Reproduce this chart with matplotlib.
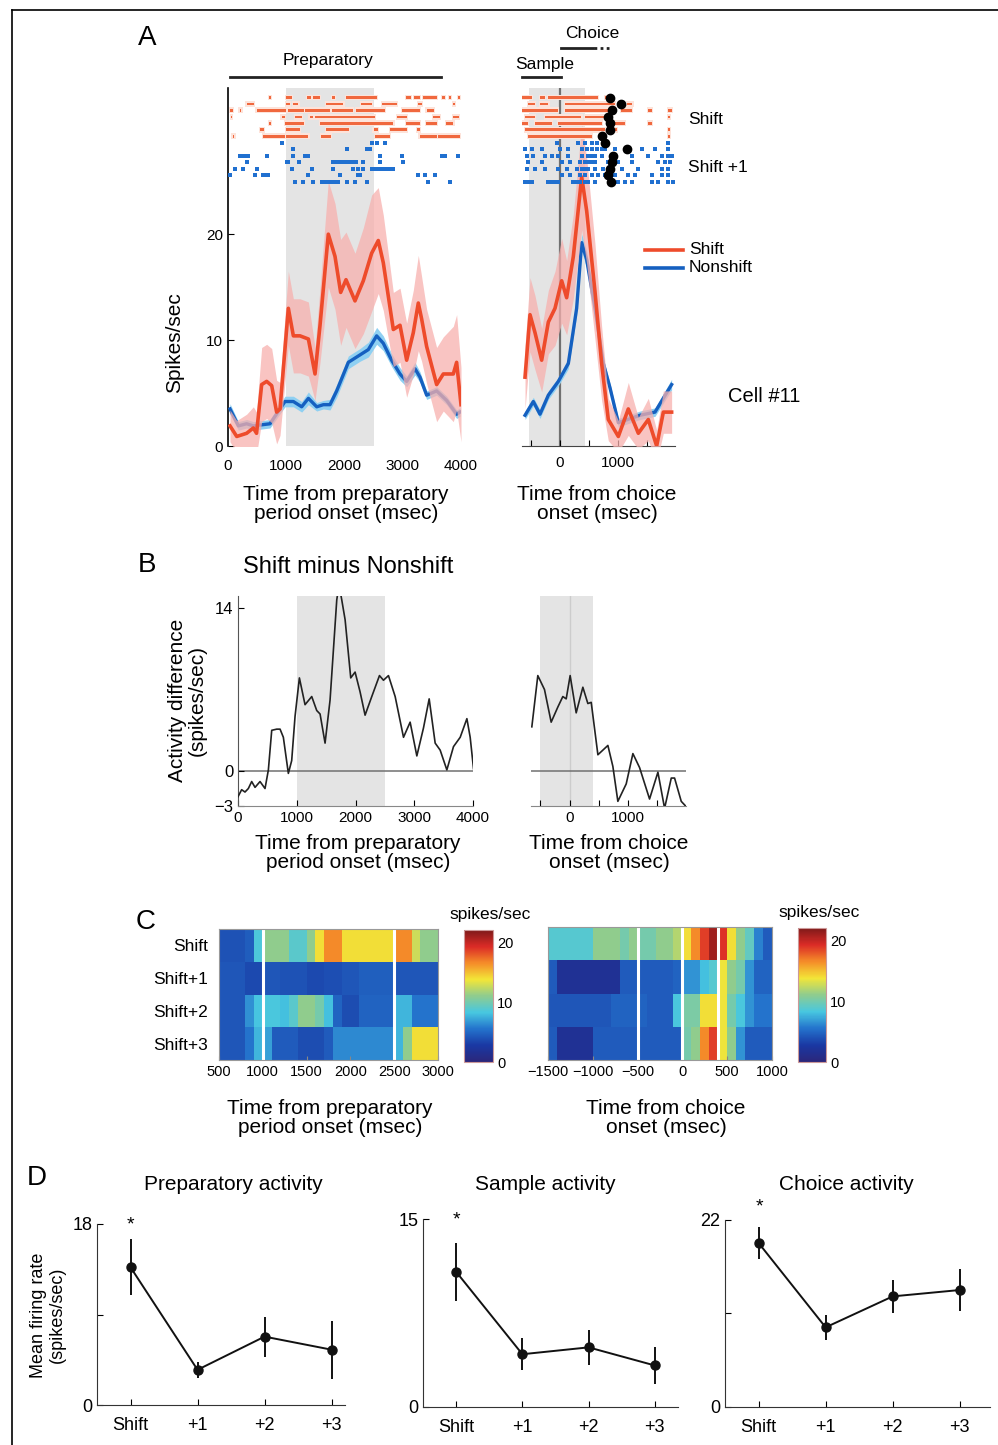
import matplotlib
matplotlib.use('Agg')
import matplotlib.pyplot as plt
from matplotlib.lines import Line2D
from matplotlib.colors import LinearSegmentedColormap

plt.rcParams['font.family'] = ['Liberation Sans', 'DejaVu Sans']
plt.rcParams['axes.unicode_minus'] = True

# ---------------- DATA ----------------
# Panel A (left): firing rate aligned to preparatory period onset
prep_t = [34, 150, 320, 435, 490, 578, 664, 750, 835, 893, 1036, 1122, 1236, 1380, 1494, 1580, 1722, 1837, 1934,
          2026, 2180, 2323, 2466, 2580, 2666, 2838, 2953, 3067, 3181, 3267, 3324, 3410, 3582, 3696, 3868, 3925, 4000]
prep_shift = [1.9, 0.9, 1.2, 1.7, 1.2, 5.8, 6.1, 5.7, 3.2, 3.5, 13.0, 10.4, 10.4, 10.1, 6.8, 11.4, 20.0, 17.9, 14.5,
              15.7, 13.7, 15.6, 18.2, 19.4, 17.3, 11.0, 11.4, 8.1, 10.7, 13.5, 12.0, 9.4, 5.8, 6.8, 6.8, 7.9, 3.9]
prep_shift_sem = [1.5, 1.5, 1.8, 2.0, 2.0, 3.5, 3.5, 3.5, 3.0, 2.5, 3.5, 3.5, 3.5, 3.5, 2.5, 3.5, 5.0, 5.0, 5.0,
                  4.5, 4.5, 5.0, 5.5, 5.0, 4.5, 3.5, 3.5, 3.5, 4.0, 4.5, 4.0, 3.5, 3.5, 3.5, 4.5, 4.5, 3.5]
prep_ns_t = [34, 178, 320, 435, 721, 978, 1122, 1265, 1380, 1523, 1637, 1751, 1866, 2066, 2266, 2409, 2552, 2666,
             2809, 2953, 3067, 3210, 3296, 3410, 3582, 3754, 3925, 3982]
prep_ns = [3.5, 1.9, 2.1, 1.9, 2.1, 4.2, 4.2, 3.7, 4.5, 3.7, 3.9, 3.9, 5.2, 7.9, 8.6, 9.1, 10.4, 9.7,
           8.1, 6.8, 6.1, 7.3, 6.5, 4.8, 5.2, 4.3, 3.0, 3.2]
prep_ns_sem = [0.5, 0.4, 0.4, 0.4, 0.4, 0.5, 0.5, 0.5, 0.6, 0.4, 0.4, 0.5, 0.6, 0.6, 0.6, 0.7, 0.8, 0.7,
               0.6, 0.6, 0.5, 0.6, 0.5, 0.4, 0.4, 0.4, 0.4, 0.4]

# Panel A (right): firing rate aligned to choice onset
ch_t = [-603, -517, -431, -316, -201, -86, 29, 115, 230, 374, 460, 603, 718, 833, 1006, 1178, 1351, 1523, 1667, 1782, 1925]
ch_shift = [6.5, 12.4, 10.7, 8.1, 11.7, 13.0, 15.6, 14.0, 17.9, 25.4, 22.2, 14.6, 7.8, 2.5, 0.9, 3.5, 1.2, 2.5, 0.0, 3.2, 3.2]
ch_shift_sem = [3.0, 3.5, 3.5, 3.0, 3.0, 3.5, 4.0, 3.5, 4.0, 5.0, 5.0, 4.5, 3.5, 2.0, 1.5, 2.5, 1.5, 2.0, 1.5, 2.0, 2.0]
ch_ns_t = [-603, -460, -345, -201, -28, 144, 287, 374, 460, 603, 747, 862, 1006, 1379, 1638, 1925]
ch_ns = [2.9, 4.2, 3.0, 4.8, 6.1, 7.8, 13.0, 19.2, 17.6, 13.0, 7.8, 5.5, 2.2, 2.9, 3.2, 5.8]
ch_ns_sem = [0.4, 0.4, 0.4, 0.4, 0.4, 0.5, 0.7, 0.8, 0.8, 0.7, 0.5, 0.4, 0.4, 0.4, 0.4, 0.5]

# Rasters, preparatory-aligned (ms). Shift trials: bursts (start, end); Shift+1 trials: single spikes
prep_shift_bursts = [
    [(700, 740), (1000, 1100), (1360, 1420), (1460, 1580), (1780, 1840), (2030, 2550), (3060, 3140), (3200, 3300),
     (3350, 3580), (3670, 3720), (3800, 3830), (3950, 3990)],
    [(320, 440), (1000, 1060), (1120, 1210), (1690, 1980), (2290, 2470), (2640, 2900), (3260, 3330), (3860, 3890)],
    [(40, 90), (200, 230), (490, 1000), (1030, 1300), (1330, 1750), (1780, 2150), (2200, 2700), (2990, 3300), (3410, 3530)],
    [(50, 70), (920, 980), (1150, 1270), (1400, 1460), (1500, 2520), (2900, 3070), (3520, 3640), (3860, 3960)],
    [(700, 730), (980, 1300), (1580, 2840), (3060, 3300), (3400, 3580), (3750, 3870)],
    [(550, 610), (1000, 1240), (1690, 2070), (2500, 2580), (2780, 3070), (3250, 3300)],
    [(80, 110), (600, 980), (1000, 1380), (1600, 1760), (2520, 2780), (3290, 3580), (3610, 3990)],
]
prep_next_spikes = [
    [921, 2466, 2550, 2695],
    [1110, 2037, 2380, 2440],
    [206, 260, 320, 349, 664, 1110, 1322, 1379, 2609, 2981, 3668, 3720, 3954],
    [320, 1007, 1036, 1225, 1808, 1860, 1900, 1950, 2000, 2050, 2100, 2150, 2200, 2323, 2609, 2999],
    [120, 250, 492, 1093, 1436, 1808, 2152, 2237, 2323, 2466, 2520, 2580, 2640, 2700, 2760, 2838],
    [34, 464, 607, 664, 692, 1379, 1923, 2237, 2266, 3267, 3382, 3554],
    [1150, 1293, 1465, 1608, 1660, 1720, 1780, 1837, 1894, 2037, 2180, 2381, 3439, 3811],
]
# Rasters, choice-aligned
ch_shift_bursts = [
    [(-660, -490), (-340, -260), (-200, 660), (780, 860)],
    [(-550, -430), (-340, -200), (90, 950), (1150, 1250)],
    [(-660, -30), (90, 890), (1060, 1240), (1520, 1580), (1870, 1930)],
    [(-600, -430), (-260, 370), (430, 780), (1870, 1900)],
    [(-660, -550), (-430, -140), (-30, 720), (950, 1120), (1520, 1580)],
    [(-600, 780), (950, 980), (1870, 1900)],
    [(-550, 550), (1870, 1900)],
]
ch_next_spikes = [
    [-57, 316, 431, 546, 632, 747, 1868],
    [-603, -489, -316, 0, 144, 374, 460, 546, 632, 718, 776, 948, 1178, 1408, 1638, 1868],
    [-575, -460, -259, -144, -29, 144, 374, 489, 546, 603, 718, 948, 1236, 1523, 1753, 1868, 1925],
    [-546, -316, 29, 172, 345, 431, 489, 546, 603, 833, 1006, 1236, 1695, 1810, 1897],
    [-575, -431, -259, -29, 115, 287, 374, 431, 489, 603, 747, 1063, 1351, 1753, 1868],
    [29, 172, 345, 431, 546, 661, 776, 948, 1178, 1293, 1580, 1753, 1868],
    [-603, -546, -489, -201, -144, -86, -29, 230, 287, 345, 431, 489, 603, 891, 1006, 1121, 1236, 1580, 1695, 1868, 1954],
]
ch_choice_times = [862, 1052, 902, 833, 862, 862, 730, 776, 1149, 920, 891, 862, 833, 879]

# Panel B: Shift minus Nonshift
diff_prep_t = [0, 62, 119, 176, 233, 290, 375, 460, 517, 574, 659, 716, 772, 857, 914, 971, 1045, 1141, 1255, 1340,
               1397, 1482, 1567, 1681, 1720, 1766, 1823, 1919, 1993, 2078, 2163, 2277, 2408, 2476, 2561, 2675, 2817,
               2930, 3044, 3157, 3254, 3356, 3441, 3555, 3668, 3782, 3896, 3952, 4009]
diff_prep = [-2.2, -1.6, -1.8, -1.5, -0.9, -1.4, -0.9, -1.5, 0.1, 3.5, 3.6, 3.6, 2.9, -0.2, 0.9, 4.7, 8.0, 5.7, 6.4, 5.2,
             4.9, 2.4, 6.1, 14.7, 16.0, 14.7, 13.0, 8.0, 8.5, 6.8, 4.8, 6.4, 8.2, 7.8, 8.2, 6.4, 2.9,
             4.2, 1.3, 3.7, 6.2, 2.4, 1.8, 0.1, 2.1, 2.9, 4.5, 2.9, 0.2]
diff_ch_t = [-649, -546, -431, -316, -201, -115, -57, 11, 115, 230, 316, 374, 489, 575, 661, 747, 833, 977, 1092, 1207,
             1379, 1523, 1638, 1753, 1810, 1925, 2000]
diff_ch = [3.8, 8.2, 7.0, 4.2, 5.5, 6.4, 6.2, 8.2, 5.0, 7.2, 5.8, 5.9, 1.4, 1.8, 2.2, 0.4, -2.6, -1.1, 1.5, 0.3,
           -2.4, -0.1, -3.2, -0.6, -0.6, -2.6, -3.0]

# Panel C: heat maps (spikes/sec), 100-ms bins
trial_labels = ['Shift', 'Shift+1', 'Shift+2', 'Shift+3']
prep_bin_edges = list(range(500, 3001, 100))
prep_heat = [
    [4, 4, 4, 4.5, 8.5, 11, 11, 11, 9, 9, 11, 14, 16.5, 16.5, 14, 14, 14, 14, 14, 14, 16.5, 16.5, 12.7, 11, 11],
    [4.2, 4.2, 4.2, 3.6, 3.6, 4.2, 4.2, 4, 4, 4, 3.6, 3.6, 3.8, 3.8, 4.2, 4.2, 4.6, 4.6, 4.6, 4.6, 4.2, 4.2, 4.2, 4.2, 4.2],
    [4.2, 4.2, 4.2, 6.5, 8.2, 8.4, 8.4, 8, 9, 11, 11, 10, 8, 4.8, 3.7, 3.7, 4.8, 4.8, 4.8, 4.8, 7.7, 7.7, 5.5, 5.5, 5.5],
    [4.2, 4.2, 4.2, 5.5, 7.7, 7, 4.4, 4.4, 4.4, 3.7, 3.7, 3.7, 4.4, 6.2, 6.2, 6.2, 6.2, 6.2, 6.2, 6.2, 7.7, 11, 14, 14, 14],
]
ch_bin_edges = list(range(-1500, 1001, 100))
ch_heat = [
    [8.8, 8.8, 8.8, 8.8, 8.8, 11, 11, 11, 10, 11, 10, 10, 11, 11, 12, 14, 16.5, 18.7, 21, 19, 14, 11, 9.3, 6, 4.4],
    [4.4, 1.8, 1.8, 1.8, 1.8, 1.8, 1.8, 1.8, 4.4, 4.4, 4.4, 4.4, 4.4, 4.4, 4.8, 6.6, 6.6, 8, 8.8, 13.6, 11, 10, 6.6, 4.8, 4.8],
    [4.2, 4.2, 4.2, 4.2, 4.2, 4.2, 4.2, 4.8, 4.8, 4.8, 4.8, 4.4, 4.4, 4.4, 8.4, 10.3, 10.3, 14, 14, 13.6, 10, 8.4, 6.6, 5.5, 5.5],
    [4.4, 1.8, 1.8, 1.8, 1.8, 4.4, 4.4, 4.4, 4.4, 4.4, 4.4, 4.4, 4.4, 4.4, 4.4, 10, 11, 16.5, 18.7, 13.6, 11, 6.6, 4.4, 4.4, 4.4],
]

# Panel D: mean firing rate by trial
d_cats = ['Shift', '+1', '+2', '+3']
prep_mean = [13.7, 3.5, 6.8, 5.5]
prep_err = [2.8, 0.8, 2.0, 2.9]
samp_mean = [10.8, 4.2, 4.75, 3.3]
samp_err = [2.3, 1.3, 1.4, 1.5]
choice_mean = [19.3, 9.35, 13.0, 13.75]
choice_err = [1.9, 1.5, 1.9, 2.45]

# ---------------- FIGURE ----------------
W, H = 998, 1445
fig = plt.figure(figsize=(W / 100, H / 100), dpi=100)
fig.patch.set_facecolor('white')


def ax_at(x0, y0, x1, y1):
    return fig.add_axes([x0 / W, 1 - y1 / H, (x1 - x0) / W, (y1 - y0) / H])


def ftext(x, y, s, **kw):
    kw.setdefault('ha', 'center')
    kw.setdefault('va', 'center')
    fig.text(x / W, 1 - y / H, s, **kw)


def fline(xs, ys, **kw):
    fig.add_artist(Line2D([x / W for x in xs], [1 - y / H for y in ys], **kw))


# outer frame
fline([12, 12], [1445, 10], color='k', lw=1.2)
fline([12, 998], [10, 10], color='k', lw=1.2)

RED = '#ee4b2b'
RED_BAND = '#f7b0ae'
BLUE = '#1560c0'
BLUE_BAND = '#8fd0f2'
ORANGE = '#f0683e'
RASTER_BLUE = '#2070d0'
GRAY_SHADE = '#e4e4e4'

# muted jet-like colormap as printed
heat_cmap = LinearSegmentedColormap.from_list('mjet', [
    (0.0, (0.17, 0.15, 0.48)),
    (0.125, (0.10, 0.22, 0.64)),
    (0.25, (0.14, 0.45, 0.80)),
    (0.375, (0.28, 0.78, 0.88)),
    (0.5, (0.56, 0.80, 0.56)),
    (0.625, (0.95, 0.90, 0.22)),
    (0.75, (0.96, 0.55, 0.16)),
    (0.875, (0.86, 0.17, 0.15)),
    (1.0, (0.50, 0.10, 0.10)),
])

YTOP = 33.8
row_top = 32.9
row_step = 0.61


def style_common(ax, fs):
    ax.tick_params(direction='in', labelsize=fs, length=4, width=0.8)
    for s in ['top', 'right']:
        ax.spines[s].set_visible(False)


def draw_psth(ax, t_s, m_s, e_s, t_n, m_n, e_n):
    lo_n = [m - e for m, e in zip(m_n, e_n)]
    hi_n = [m + e for m, e in zip(m_n, e_n)]
    ax.fill_between(t_n, lo_n, hi_n, color=BLUE_BAND, lw=0, zorder=2)
    ax.plot(t_n, m_n, color=BLUE, lw=2.4, zorder=3, solid_joinstyle='round')
    lo_s = [m - e for m, e in zip(m_s, e_s)]
    hi_s = [m + e for m, e in zip(m_s, e_s)]
    ax.fill_between(t_s, lo_s, hi_s, color=RED_BAND, lw=0, alpha=0.75, zorder=4)
    ax.plot(t_s, m_s, color=RED, lw=2.6, zorder=5, solid_joinstyle='round')


def draw_raster(ax, bursts, spikes):
    n = len(bursts)
    for i, row in enumerate(bursts):
        y = row_top - i * row_step
        ax.broken_barh([(a - 20, b - a + 40) for a, b in row], (y - 0.28, 0.56), facecolors='#fde3da', zorder=5)
        ax.broken_barh([(a, b - a) for a, b in row], (y - 0.13, 0.26), facecolors=ORANGE, zorder=6)
    for j, row in enumerate(spikes):
        y = row_top - (n + j) * row_step
        ax.scatter(row, [y] * len(row), marker='s', s=6, color=RASTER_BLUE, lw=0, zorder=6)


# ---- Panel A left ----
axA1 = ax_at(228, 88, 461, 446)
axA1.set_xlim(0, 4000)
axA1.set_ylim(0, YTOP)
axA1.axvspan(1000, 2500, color=GRAY_SHADE, zorder=0, lw=0)
draw_psth(axA1, prep_t, prep_shift, prep_shift_sem, prep_ns_t, prep_ns, prep_ns_sem)
draw_raster(axA1, prep_shift_bursts, prep_next_spikes)
style_common(axA1, 11)
axA1.set_xticks([0, 1000, 2000, 3000, 4000])
axA1.set_yticks([0, 10, 20])
axA1.spines['bottom'].set_visible(False)
axA1.spines['left'].set_linewidth(1.2)
axA1.tick_params(axis='x', length=0, pad=9)

# ---- Panel A right ----
axA2 = ax_at(522.3, 88, 675.4, 446)
axA2.set_xlim(-650, 1990)
axA2.set_ylim(0, YTOP)
axA2.axvspan(-530, 430, color=GRAY_SHADE, zorder=0, lw=0)
axA2.axvline(0, color='#707070', lw=1.6, zorder=1)
draw_psth(axA2, ch_t, ch_shift, ch_shift_sem, ch_ns_t, ch_ns, ch_ns_sem)
draw_raster(axA2, ch_shift_bursts, ch_next_spikes)
axA2.plot(ch_choice_times, [row_top - i * row_step for i in range(len(ch_choice_times))], 'o', color='k',
          ms=6, zorder=8, clip_on=False)
style_common(axA2, 11)
axA2.spines['left'].set_visible(False)
axA2.spines['bottom'].set_color('#444444')
axA2.set_yticks([])
axA2.set_xticks([-500, 0, 500, 1000, 1500])
axA2.set_xticklabels(['', '0', '', '1000', ''])
axA2.tick_params(axis='x', pad=7)

ftext(147, 38, 'A', fontsize=20)
ftext(328, 60, 'Preparatory', fontsize=12.5)
fline([230, 441], [77, 77], color='#222222', lw=2)
ftext(545, 64, 'Sample', fontsize=12.5)
fline([522, 561], [77, 77], color='#222222', lw=2)
ftext(592, 33, 'Choice', fontsize=12.5)
fline([561, 593], [48, 48], color='#222222', lw=2)
fline([594, 609], [48, 48], color='#222222', lw=2, ls=(0, (1, 1.2)))
ftext(688, 120, 'Shift', fontsize=12.5, ha='left')
ftext(688, 167, 'Shift +1', fontsize=12.5, ha='left')
fline([645, 683], [250, 250], color=RED, lw=2.6)
ftext(689, 250, 'Shift', fontsize=12.5, ha='left')
fline([645, 683], [268, 268], color=BLUE, lw=2.6)
ftext(689, 268, 'Nonshift', fontsize=12.5, ha='left')
ftext(728, 396, 'Cell #11', fontsize=14.5, ha='left')
ftext(175, 343, 'Spikes/sec', fontsize=15, rotation=90)
ftext(346, 504, 'Time from preparatory\nperiod onset (msec)', fontsize=15, linespacing=1.05)
ftext(597, 504, 'Time from choice\nonset (msec)', fontsize=15, linespacing=1.05)

# ---- Panel B ----
axB1 = ax_at(238, 596.4, 473, 806)
axB1.set_xlim(0, 4000)
axB1.set_ylim(-3, 15)
axB1.axvspan(1000, 2500, color=GRAY_SHADE, zorder=0, lw=0)
axB1.axhline(0, color='#707070', lw=1.1, zorder=1)
axB1.plot(diff_prep_t, diff_prep, color='#222222', lw=1.2, zorder=3)
style_common(axB1, 11)
axB1.set_xticks([0, 1000, 2000, 3000, 4000])
axB1.set_yticks([-3, 0, 14])
axB1.set_yticklabels(['\u22123', '0', '14'], fontsize=12)
axB1.spines['left'].set_color('#555555')
axB1.spines['bottom'].set_color('#888888')

axB2 = ax_at(531.2, 596.4, 685.6, 806)
axB2.set_xlim(-660, 2000)
axB2.set_ylim(-3, 15)
axB2.axvspan(-500, 400, color=GRAY_SHADE, zorder=0, lw=0)
axB2.axvline(0, color='#cccccc', lw=1, zorder=1)
axB2.axhline(0, color='#707070', lw=1.1, zorder=1)
axB2.plot(diff_ch_t, diff_ch, color='#222222', lw=1.2, zorder=3)
style_common(axB2, 11)
axB2.spines['left'].set_visible(False)
axB2.spines['bottom'].set_color('#888888')
axB2.set_yticks([])
axB2.set_xticks([-500, 0, 500, 1000, 1500])
axB2.set_xticklabels(['', '0', '', '1000', ''])

ftext(147, 565, 'B', fontsize=20)
ftext(348, 567, 'Shift minus Nonshift', fontsize=17)
ftext(187, 700, 'Activity difference\n(spikes/sec)', fontsize=15, rotation=90, linespacing=1.05)
ftext(358, 853, 'Time from preparatory\nperiod onset (msec)', fontsize=15, linespacing=1.05)
ftext(609, 853, 'Time from choice\nonset (msec)', fontsize=15, linespacing=1.05)


# ---- Panel C ----
def heat(ax, edges, vals, xticks, xlabels, vlines):
    m = ax.pcolormesh(edges, [0, 1, 2, 3, 4], vals, cmap=heat_cmap, vmin=0, vmax=22, shading='flat')
    ax.set_ylim(4, 0)
    ax.set_xlim(edges[0], edges[-1])
    for v in vlines:
        ax.axvline(v, color='white', lw=2.2)
    ax.set_xticks(xticks)
    ax.set_xticklabels(xlabels)
    ax.tick_params(axis='x', direction='in', labelsize=10.5, length=3, color='#888888')
    for s in ax.spines.values():
        s.set_color('#999999')
        s.set_linewidth(0.8)
    return m


axC1 = ax_at(219, 929, 438, 1060)
mC1 = heat(axC1, prep_bin_edges, prep_heat, [500, 1000, 1500, 2000, 2500, 3000],
           ['500', '1000', '1500', '2000', '2500', '3000'], [1000, 2500])
axC1.set_yticks([0.5, 1.5, 2.5, 3.5])
axC1.set_yticklabels(trial_labels, fontsize=12.5)
axC1.tick_params(axis='y', length=0, pad=8)

axC2 = ax_at(548, 927, 772, 1060)
mC2 = heat(axC2, ch_bin_edges, ch_heat, [-1500, -1000, -500, 0, 500, 1000],
           ['\u22121500', '\u22121000', '\u2212500', '0', '500', '1000'], [-500, 0, 400])
axC2.set_yticks([])

for (x0, y0, x1, y1), mm, lx, ly in [((464, 930, 493, 1062), mC1, 490, 914), ((798, 928, 826, 1062), mC2, 819, 913)]:
    cax = ax_at(x0, y0, x1, y1)
    cb = fig.colorbar(mm, cax=cax, ticks=[0, 10, 20])
    cb.outline.set_edgecolor('#cc9999')
    cb.outline.set_linewidth(0.8)
    cax.tick_params(labelsize=10.5, length=0, pad=3)
    ftext(lx, ly, 'spikes/sec', fontsize=12.5)

ftext(146, 922, 'C', fontsize=20)
ftext(330, 1118, 'Time from preparatory\nperiod onset (msec)', fontsize=15, linespacing=1.05)
ftext(666, 1118, 'Time from choice\nonset (msec)', fontsize=15, linespacing=1.05)


# ---- Panel D ----
def dpanel(box, xlim, ymax, means, errs, title, tx, star_y):
    ax = ax_at(*box)
    x = list(range(len(d_cats)))
    ax.errorbar(x, means, yerr=errs, fmt='-o', color='#111111', ms=6.5, lw=1.4, elinewidth=1.4, capsize=0,
                clip_on=False, zorder=3)
    ax.set_xlim(*xlim)
    ax.set_ylim(0, ymax)
    ax.set_xticks(x)
    ax.set_xticklabels(d_cats)
    ax.set_yticks([0, ymax / 2, ymax])
    ax.set_yticklabels(['0', '', str(ymax)])
    ax.tick_params(direction='in', labelsize=13, length=4, width=0.8)
    ax.tick_params(axis='x', pad=9)
    for s in ['top', 'right']:
        ax.spines[s].set_visible(False)
    for s in ['left', 'bottom']:
        ax.spines[s].set_color('#333333')
    ftext(tx, 1184, title, fontsize=15)
    ftext(star_y[0], star_y[1], '*', fontsize=14)
    return ax


dpanel((97, 1224, 345, 1405), (-0.5, 3.2), 18, prep_mean, prep_err, 'Preparatory activity', 233, (130, 1225))
axD2 = dpanel((423, 1219.3, 678, 1406.7), (-0.5, 3.35), 15, samp_mean, samp_err, 'Sample activity', 545, (456, 1220))
axD2.set_yticks([0, 15])
axD2.set_yticklabels(['0', '15'])
dpanel((725, 1220, 990, 1406.7), (-0.5, 3.45), 22, choice_mean, choice_err, 'Choice activity', 846, (759, 1207))

ftext(37, 1178, 'D', fontsize=20)
ftext(48, 1315, 'Mean firing rate\n(spikes/sec)', fontsize=13, rotation=90, linespacing=1.1)

fig.savefig('out.png', dpi=100)
